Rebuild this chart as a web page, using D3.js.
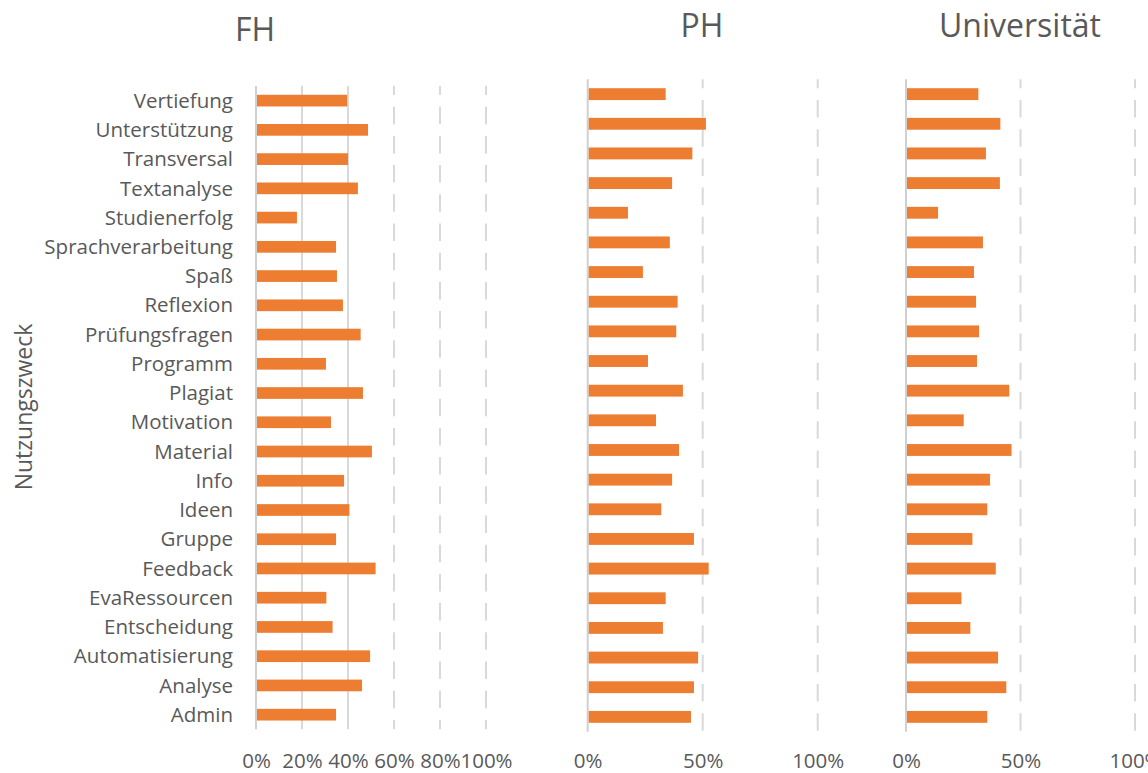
<!DOCTYPE html>
<html>
<head>
<meta charset="utf-8">
<script src="https://cdn.jsdelivr.net/npm/d3@7"></script>
<style>
  body { margin: 0; background: #fff; }
  text { font-family: "Open Sans", sans-serif; fill: #595959; }
</style>
</head>
<body>
<svg></svg>
<script>
// categories top to bottom
var categories = ["Vertiefung","Unterstützung","Transversal","Textanalyse","Studienerfolg",
  "Sprachverarbeitung","Spaß","Reflexion","Prüfungsfragen","Programm","Plagiat","Motivation",
  "Material","Info","Ideen","Gruppe","Feedback","EvaRessourcen","Entscheidung",
  "Automatisierung","Analyse","Admin"];

var fhValues = [0.396,0.487,0.400,0.443,0.178,0.348,0.352,0.378,0.455,0.304,0.465,0.326,
  0.504,0.383,0.406,0.348,0.520,0.306,0.333,0.496,0.461,0.348];
var phValues = [0.339,0.514,0.455,0.367,0.175,0.357,0.240,0.391,0.385,0.262,0.414,0.297,
  0.397,0.367,0.320,0.462,0.526,0.339,0.327,0.480,0.462,0.449];
var uniValues = [0.316,0.412,0.349,0.410,0.140,0.336,0.297,0.306,0.319,0.310,0.451,0.252,
  0.461,0.367,0.355,0.290,0.392,0.242,0.281,0.402,0.438,0.355];

var fhTicks = [0, 0.2, 0.4, 0.6, 0.8, 1];
var wideTicks = [0, 0.5, 1];

var w = 1148;
var h = 773;
var svg = d3.select('svg')
    .attr('width', w)
    .attr('height', h);

var panels = [
  {title: "FH", values: fhValues, ticks: fhTicks, solid: [0, 0.2, 0.4],
   x0: 256, x1: 486, y0: 86, y1: 729.3, titleX: 255, titleY: 41},
  {title: "PH", values: phValues, ticks: wideTicks, solid: [0],
   x0: 587.7, x1: 817.7, y0: 79.3, y1: 731.7, titleX: 702, titleY: 37},
  {title: "Universität", values: uniValues, ticks: wideTicks, solid: [0],
   x0: 906, x1: 1135, y0: 79.3, y1: 731.7, titleX: 1020, titleY: 37}
];

panels.forEach(function(p, k) {
  var x = d3.scaleLinear().domain([0, 1]).range([p.x0, p.x1]);
  var y = d3.scaleBand().domain(categories).range([p.y0, p.y1]).padding(0);
  var g = svg.append('g');

  // gridlines
  g.selectAll('line.grid')
    .data(p.ticks)
    .enter()
    .append('line')
    .attr('x1', function(d) { return x(d); })
    .attr('x2', function(d) { return x(d); })
    .attr('y1', p.y0)
    .attr('y2', p.y1)
    .attr('stroke', function(d) { return d == 0 ? '#d0d0d0' : '#d9d9d9'; })
    .attr('stroke-width', 2)
    .attr('stroke-dasharray', function(d) {
      return p.solid.indexOf(d) >= 0 ? null : '17.5,11.7';
    })
    .attr('stroke-dashoffset', 8.5);

  // bars
  var barH = y.bandwidth() * 0.4;
  g.selectAll('rect.bar')
    .data(p.values)
    .enter()
    .append('rect')
    .attr('x', x(0) + 1)
    .attr('y', function(d, i) { return y(categories[i]) + (y.bandwidth() - barH) / 2; })
    .attr('width', function(d) { return x(d) - x(0) - 1; })
    .attr('height', barH)
    .attr('fill', '#ed7d31');

  // x axis labels
  var ax = g.append('g')
    .attr('transform', 'translate(0,768)')
    .call(d3.axisBottom(x).tickValues(p.ticks).tickFormat(d3.format('.0%')).tickSize(0));
  ax.select('.domain').remove();
  ax.selectAll('text')
    .attr('y', 0)
    .attr('dy', 0)
    .style('font-family', '"Open Sans", sans-serif')
    .style('font-size', '20.5px')
    .attr('fill', '#595959');

  // title
  g.append('text')
    .attr('x', p.titleX)
    .attr('y', p.titleY)
    .attr('text-anchor', 'middle')
    .style('font-size', '32px')
    .text(p.title);

  // category labels only on first panel
  if (k == 0) {
    g.selectAll('text.cat')
      .data(categories)
      .enter()
      .append('text')
      .attr('x', 233)
      .attr('y', function(d) { return y(d) + y.bandwidth() / 2; })
      .attr('dy', '0.35em')
      .attr('text-anchor', 'end')
      .style('font-size', '20.5px')
      .text(function(d) { return d; });
  }
});

svg.append('text')
  .attr('transform', 'translate(32,407) rotate(-90)')
  .attr('text-anchor', 'middle')
  .style('font-size', '23px')
  .text('Nutzungszweck');
</script>
</body>
</html>
